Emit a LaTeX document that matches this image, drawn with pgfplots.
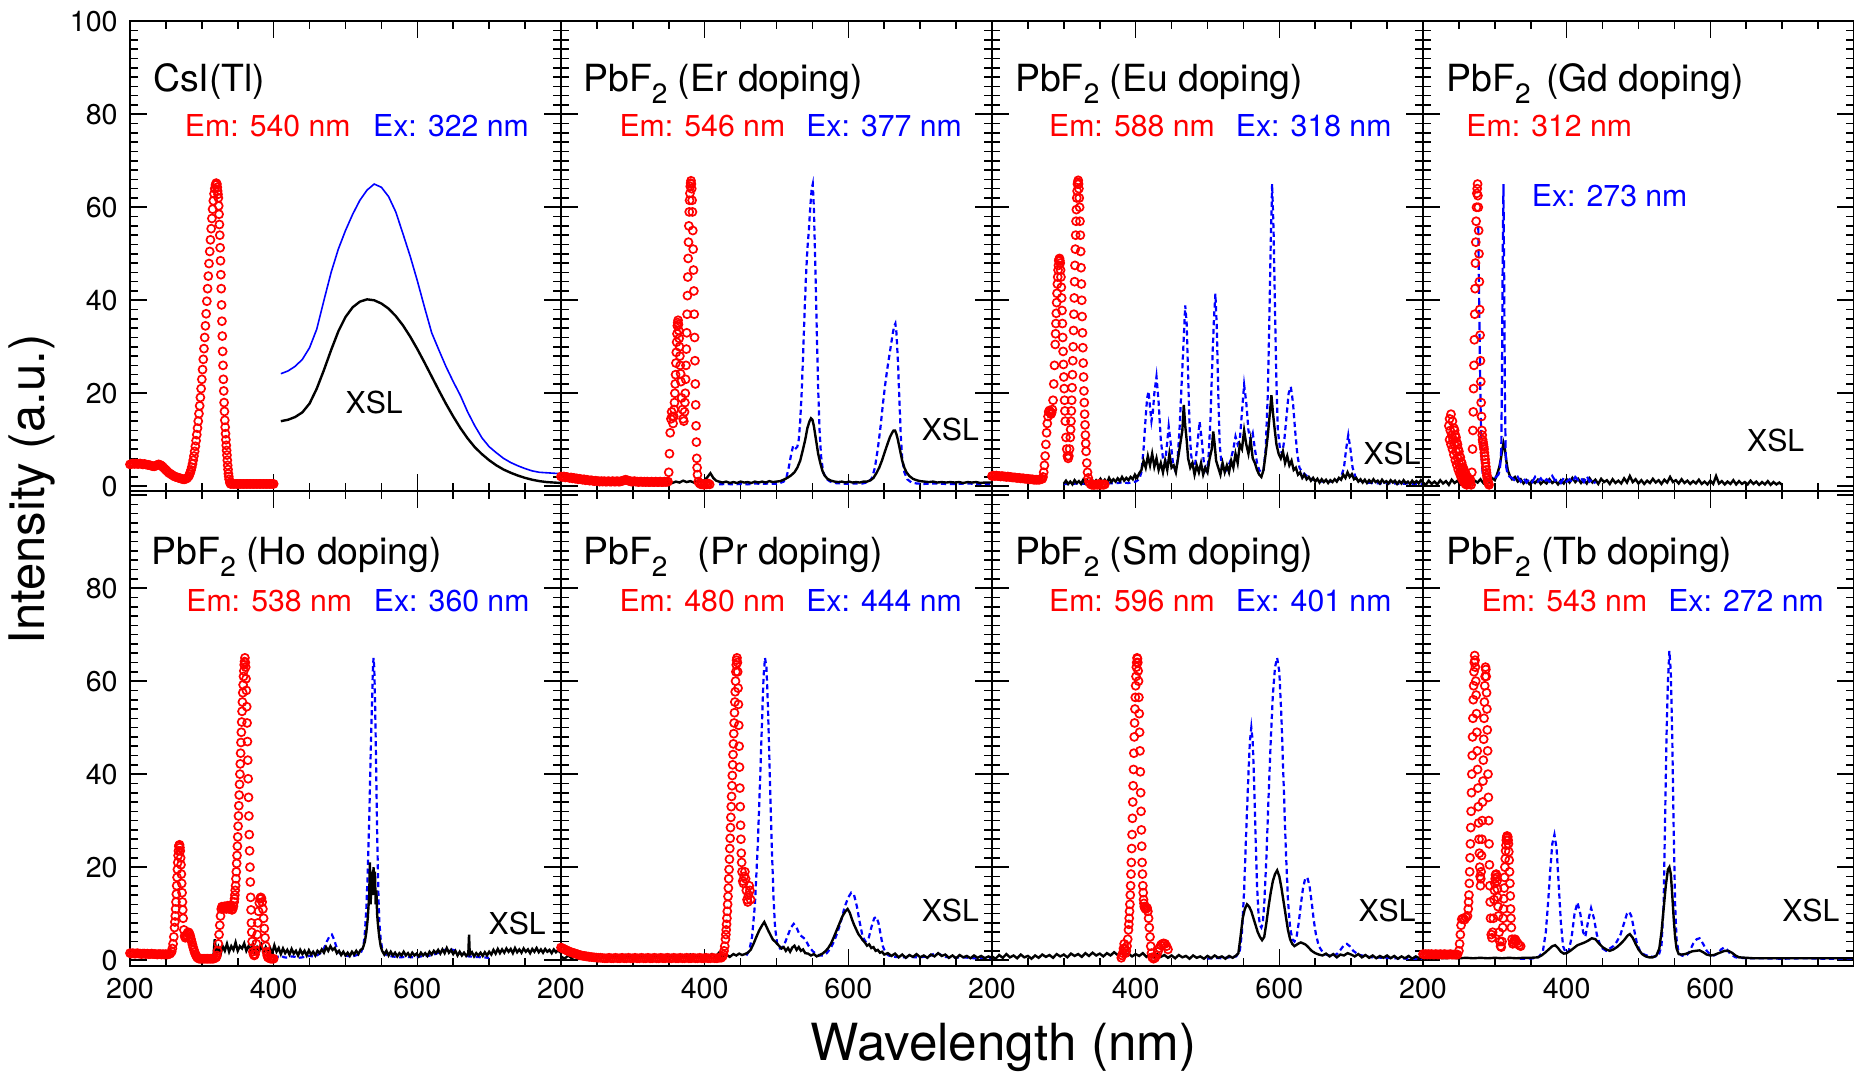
\documentclass[border=0pt]{standalone}
\usepackage{fontspec}
\setmainfont{TeX Gyre Heros}
\usepackage{pgfplots}
\pgfplotsset{compat=1.18}
\usepgfplotslibrary{groupplots}
\usetikzlibrary{calc}
\newcommand\tickfont{\fontsize{14.3}{16}\selectfont}
\newcommand\ttl{\fontsize{18.7}{22}\selectfont}
\newcommand\ann{\fontsize{15.1}{18}\selectfont}
\newcommand\sub[1]{\raisebox{-6pt}{\fontsize{14}{14}\selectfont #1}}
\tikzset{lbl/.style={anchor=base west, inner sep=0pt}}
\pgfplotsset{
  panel/.style={
    scale only axis, width=215.5pt,
    xmin=200, xmax=800,
    xtick={200,400,600,800}, minor x tick num=3,
    ytick={0,20,40,60,80,100}, minor y tick num=9,
    tick align=inside,
    major tick length=8.5pt, minor tick length=4pt,
    every tick/.style={black, line width=0.8pt},
    axis line style={line width=1pt},
    tick label style={font=\tickfont},
    yticklabel style={inner sep=0pt, xshift=-6pt},
    xticklabel style={inner sep=0pt, yshift=-6pt},
  },
  toprow/.style={ymin=-1, ymax=100, height=234.8pt, xticklabels={}},
  botrow/.style={ymin=-1.2, ymax=100.9, height=237.4pt, xticklabels={200,400,600,{}}},
  redc/.style={only marks, mark=o, mark size=2pt, color=red, mark options={line width=0.85pt}},
  bdash/.style={blue, line width=1.1pt, dash pattern=on 2.6pt off 1.8pt},
  xsl/.style={black, line width=1.2pt},
}
\begin{document}
\begin{tikzpicture}
\begin{groupplot}[group style={group size=4 by 2, horizontal sep=0pt, vertical sep=0pt}, panel]
%================ Panel 1: CsI(Tl)
\nextgroupplot[toprow, yticklabels={0,20,40,60,80,100}]
\coordinate (TL) at (rel axis cs:0,1);
\addplot[blue, line width=0.8pt] coordinates {(410,24.2)(420,24.8)(430,25.8)(440,27.3)(450,29.8)(460,33.8)(470,40)(480,46)(490,51)(500,55)(510,58.5)(520,61.5)(530,63.7)(540,65)(550,64.3)(560,62.3)(570,59)(580,54.3)(590,49.5)(600,44.2)(610,38.5)(620,33)(630,29.3)(640,25.7)(650,22.5)(660,19.5)(670,16)(680,13)(690,10.4)(700,8.5)(710,7.2)(720,6)(730,5.1)(740,4.4)(750,3.8)(760,3.3)(770,3)(780,2.9)(790,2.8)(800,2.7)};
\addplot[xsl] coordinates {(410,14)(420,14.3)(430,14.9)(440,15.9)(450,17.8)(460,21)(470,25)(480,29.3)(490,33.3)(500,36.4)(510,38.5)(520,39.7)(530,40.2)(540,40)(550,39.3)(560,38.2)(570,36.6)(580,34.6)(590,32.2)(600,29.5)(610,26.6)(620,23.6)(630,20.6)(640,17.7)(650,15)(660,12.5)(670,10.3)(680,8.4)(690,6.9)(700,5.6)(710,4.5)(720,3.6)(730,2.9)(740,2.3)(750,1.8)(760,1.4)(770,1.1)(780,0.9)(790,0.8)(800,0.7)};
\addplot[redc] coordinates {(200,4.7)(202,4.8)(204,4.9)(206,4.8)(208,4.9)(210,4.8)(212,4.8)(214,4.9)(216,4.8)(218,4.7)(220,4.8)(222,4.7)(224,4.6)(226,4.6)(228,4.5)(230,4.4)(232,4.3)(234,4.3)(236,4.4)(238,4.6)(240,4.7)(242,4.6)(244,4.4)(246,4.1)(248,3.8)(250,3.5)(252,3.2)(254,2.9)(256,2.7)(258,2.5)(260,2.3)(262,2.1)(264,2)(266,1.9)(268,1.8)(270,1.7)(272,1.6)(274,1.5)(276,1.5)(278,1.6)(280,1.8)(282,2.2)(283,2.6)(284,3)(285,3.5)(286,4.1)(287,4.8)(288,5.6)(289,6.5)(290,7.5)(291,8.6)(292,9.8)(293,11.1)(294,12.5)(295,14)(296,15.6)(297,17.3)(298,19.1)(299,21)(300,23)(301,25.1)(302,27.3)(303,29.6)(304,32)(305,34.5)(306,37.1)(307,39.8)(308,42.5)(309,45.2)(310,47.9)(311,50.5)(312,53)(313,55.4)(314,57.6)(315,59.6)(316,61.4)(317,62.9)(318,64)(319,64.8)(320,65.2)(321,65)(322,63.5)(323,62)(324,58.5)(325,54)(326,48.5)(327,42.5)(328,35.5)(329,29)(330,23)(331,18)(332,14.2)(333,11.3)(334,8.8)(335,6.7)(336,4.5)(337,2.7)(338,1.5)(339,0.8)(340,0.5)(321.5,64.3)(322.5,62.8)(323.5,60.3)(324.5,56.3)(325.5,51.3)(326.5,45.5)(327.5,39)(328.5,32.3)(329.5,26)(330.5,20.5)(331.5,16.1)(332.5,12.7)(333.5,10)(334.5,7.7)(335.5,5.6)(336.5,3.6)(337.5,2.1)(342,0.5)(344,0.5)(346,0.5)(348,0.5)(350,0.5)(352,0.5)(354,0.5)(356,0.5)(358,0.5)(360,0.5)(362,0.5)(364,0.5)(366,0.5)(368,0.5)(370,0.5)(372,0.5)(374,0.5)(376,0.5)(378,0.5)(380,0.5)(382,0.5)(384,0.5)(386,0.5)(388,0.5)(390,0.5)(392,0.5)(394,0.5)(396,0.5)(398,0.5)(400,0.5)};
\node[lbl, font=\ttl] at (axis cs:231.5,85) {CsI(Tl)};
\node[lbl, font=\ann, text=red] at (axis cs:276,75.3) {Em: 540 nm};
\node[lbl, font=\ann, text=blue] at (axis cs:538,75.3) {Ex: 322 nm};
\node[font=\ann] at (axis cs:540,18) {XSL};
%================ Panel 2: Er
\nextgroupplot[toprow, yticklabels={}]
\addplot[bdash] coordinates {(420,0.4)(430,0.5)(440,0.4)(450,0.5)(460,0.4)(470,0.6)(480,0.5)(490,0.6)(500,0.5)(505,0.7)(510,1)(514,2)(517,4)(520,6.5)(523,8.6)(526,8)(529,8.5)(531,10)(533,14)(535,20)(537,28)(539,37)(541,45)(543,51)(545,55)(547,60)(549,64)(550.5,65)(552,60)(554,48)(556,34)(558,21)(560,12)(562,6.5)(565,3)(570,1.5)(575,1)(580,0.7)(590,0.6)(600,0.5)(610,0.6)(620,0.6)(628,0.9)(633,1.8)(637,4)(641,8)(645,13)(648,17.5)(651,21.5)(654,25)(657,28)(660,31)(662,33)(664,34.5)(665.5,35)(667,33)(669,27)(671,19)(673,11)(675,6)(678,3)(682,1.5)(688,0.8)(695,0.6)(705,0.5)(720,0.6)(735,0.5)(750,0.5)(765,0.6)(780,0.5)(800,0.5)};
\addplot[xsl] coordinates {(340,1)(345,0.8)(350,1.1)(355,0.7)(360,1)(365,0.8)(370,1.2)(375,0.9)(380,1.1)(385,0.8)(390,1.2)(395,1)(400,1.3)(404,2)(408,2.8)(412,1.8)(416,1.2)(420,1)(425,0.8)(430,1)(435,0.7)(440,0.9)(445,0.7)(450,1)(455,0.8)(460,0.9)(465,0.7)(470,1)(475,0.8)(480,1)(485,0.8)(490,1.1)(495,0.9)(500,1)(505,1.1)(510,1.4)(515,1.8)(520,2.3)(525,3)(529,4)(533,5.5)(537,8)(540,10)(543,12.5)(546,14)(548,14.6)(550,14.3)(552,13)(554,11)(556,9)(558,7)(561,5)(564,3.3)(567,2.3)(571,1.6)(576,1.2)(581,1)(586,0.9)(591,1)(596,0.8)(601,1)(606,0.8)(611,0.9)(616,0.8)(621,1)(626,1)(631,1.3)(635,1.8)(639,2.8)(643,4)(647,5.6)(651,7.5)(655,9.3)(658,10.6)(661,11.5)(663,12)(665,12)(667,11.2)(669,10)(671,8.5)(673,7)(675,5.5)(678,4)(681,3)(685,2.2)(690,1.6)(695,1.3)(700,1.1)(706,1)(712,0.9)(718,1)(724,0.8)(730,0.9)(736,0.8)(742,0.9)(748,0.8)(754,0.9)(760,0.7)(766,0.9)(772,0.8)(778,0.9)(784,0.7)(790,0.8)(800,0.8)};
\addplot[redc] coordinates {(200,2.1)(202,2)(204,2.1)(206,1.9)(208,2)(210,1.9)(212,1.8)(214,1.9)(216,1.7)(218,1.8)(220,1.6)(222,1.7)(224,1.5)(226,1.6)(228,1.5)(230,1.4)(232,1.5)(234,1.3)(236,1.4)(238,1.3)(240,1.2)(242,1.3)(244,1.2)(246,1.1)(248,1.2)(250,1.1)(252,1.1)(254,1)(256,1.1)(258,1)(260,1.1)(262,1)(264,1)(266,1.1)(268,1)(270,1)(272,1.1)(274,1)(276,1)(278,1.1)(280,1)(282,1)(284,1.1)(286,1.2)(288,1.3)(290,1.4)(292,1.3)(294,1.2)(296,1.1)(298,1)(300,1)(302,1.1)(304,1)(306,1)(308,0.9)(310,1)(312,1)(314,0.9)(316,1)(318,0.9)(320,1)(322,0.9)(324,0.9)(326,1)(328,0.9)(330,0.9)(332,1)(334,0.9)(336,0.9)(338,1)(340,0.9)(342,0.9)(344,1)(346,0.9)(348,1)(349,1)(350,3)(351,7)(352,11.5)(353,14.5)(354,16)(355,15)(356,13.5)(357,15)(358,18)(359,22)(360,26.5)(361,31)(362,34.5)(363,35.7)(364,33.5)(365,30)(366,26)(367,22.5)(368,19)(369,16.5)(370,14.5)(371,14)(372,16)(373,20)(374,26)(375,33)(376,41)(377,49)(378,56)(379,61.5)(380,64.5)(381,65.7)(382,64)(383,59)(384,51)(385,42)(386,32)(387,22)(388,13)(389,6)(390,2.5)(391,1)(357.5,16.5)(358.5,20)(359.5,24)(360.5,28.8)(361.5,32.8)(362.5,35.2)(363.5,34.8)(364.5,31.8)(365.5,28)(366.5,24.2)(372.5,18)(373.5,23)(374.5,29.5)(375.5,37)(376.5,45)(377.5,52.5)(378.5,59)(379.5,63)(380.5,65.2)(381.5,65)(382.5,61.5)(383.5,55)(384.5,46.5)(385.5,37)(386.5,27)(387.5,17.5)(388.5,9.5)(389.5,4)(393,0.6)(395,0.4)(397,0.5)(399,0.3)(401,0.5)(403,0.4)(405,0.6)(407,0.4)};
\node[lbl, font=\ttl] at (axis cs:230.5,85) {PbF\sub{2} (Er doping)};
\node[lbl, font=\ann, text=red] at (axis cs:281,75.3) {Em: 546 nm};
\node[lbl, font=\ann, text=blue] at (axis cs:541,75.3) {Ex: 377 nm};
\node[font=\ann] at (axis cs:742,12.2) {XSL};
%================ Panel 3: Eu
\nextgroupplot[toprow, yticklabels={}]
\addplot[bdash] coordinates {(300,0.5)(310,0.5)(320,0.6)(330,0.5)(340,0.6)(350,0.5)(360,0.7)(370,0.6)(380,0.8)(390,0.7)(400,1)(405,1.5)(408,3)(411,8)(414,15)(416,19)(418,20.4)(420,17)(422,14)(424,16)(426,20)(429,23.6)(432,18)(435,10)(438,6)(441,5)(443,8)(446,12.9)(449,9)(452,5)(455,3.5)(458,5)(461,12)(464,22)(467,32)(469,38.9)(471,35)(473,24)(475,13)(477,7)(480,4)(483,5)(486,9)(489,13.9)(492,10)(495,5)(498,3.5)(501,5)(504,14)(507,28)(509,36)(511,41.4)(513,34)(515,20)(517,9)(520,4)(524,3)(528,4)(532,5.5)(536,8)(539,10.7)(542,9)(545,10)(548,16)(551,21.8)(554,18)(557,12)(560,10)(563,11.4)(566,8)(569,5)(572,3.5)(575,3)(578,3.5)(581,8)(584,20)(586,35)(588,52)(590,65)(592,55)(594,38)(596,22)(598,12)(601,8)(604,7)(607,10)(610,15)(613,20)(616,21.4)(619,18)(622,12)(625,7)(628,4)(632,3)(636,2.5)(640,2)(645,1.5)(650,1.3)(660,1)(670,1)(680,1.2)(686,2)(690,4)(693,8)(696,11)(699,8)(702,4)(706,2)(712,1.2)(720,0.8)(730,0.7)(740,0.6)(750,0.7)(760,0.6)(770,0.5)(780,0.6)(790,0.5)(800,0.5)};
\addplot[xsl] coordinates {(300,0.6)(303,1.2)(306,0.5)(309,1)(312,0.4)(315,1.3)(318,0.7)(321,1.1)(324,0.5)(327,1.4)(330,0.6)(333,1.2)(336,0.8)(339,1.5)(342,0.7)(345,1.3)(348,0.9)(351,1.6)(354,0.8)(357,1.4)(360,0.7)(363,1.8)(366,0.9)(369,1.5)(372,1)(375,1.7)(378,1.1)(381,2)(384,1.2)(387,1.8)(390,1.3)(393,2)(396,1.5)(399,2.5)(402,1.8)(405,2.8)(408,3.5)(411,5.5)(414,4)(417,6.5)(420,4.5)(423,7)(426,4.2)(429,6)(432,3.5)(435,5)(438,3)(441,5.5)(444,3.5)(447,7)(450,4)(453,4.5)(456,3)(459,6)(462,9)(465,12)(467,17.5)(469,13)(471,10)(473,6)(476,4)(479,5)(482,2.5)(485,4.5)(488,3)(491,5)(494,2.5)(497,4)(500,3)(503,6)(506,8)(508,11.8)(510,9)(512,5.5)(515,4)(518,2.5)(521,5)(524,3)(527,4.5)(530,3)(533,5.5)(536,4)(539,7)(542,5)(545,9)(548,8)(551,12)(554,9)(557,7)(560,10)(563,6)(566,5)(569,3.5)(572,2.5)(575,2)(578,3.5)(581,7)(584,11)(587,16)(589,19.6)(591,16)(593,13)(596,9)(599,7)(602,6)(605,7.5)(608,5)(611,6.5)(614,4.5)(617,5.5)(620,3.5)(623,4)(626,2.5)(629,3)(632,1.8)(635,2.5)(638,1.5)(641,2)(644,1.2)(647,1.8)(650,1)(653,1.6)(656,0.8)(659,1.5)(662,0.9)(665,1.4)(668,0.7)(671,1.3)(674,0.9)(677,1.5)(680,1)(683,1.8)(686,1.4)(689,2.5)(692,1.8)(695,3)(698,2)(701,2.6)(704,1.5)(707,1.8)(710,1)(713,1.5)(716,0.8)(719,1.4)(722,0.7)(725,1.3)(728,0.8)(731,1.5)(734,0.9)(737,1.2)(740,0.6)(743,1.4)(746,0.8)(749,1.1)(752,0.6)(755,1.3)(758,0.8)(761,1.2)(764,0.5)(767,1.1)(770,0.6)(773,1.3)(776,0.7)(779,1)(782,0.5)(785,1.2)(788,0.7)(791,1.1)(794,0.6)(797,1.3)(800,0.8)};
\addplot[redc] coordinates {(200,2.2)(202,2.3)(204,2.2)(206,2.3)(208,2.2)(210,2.2)(212,2.1)(214,2.2)(216,2.1)(218,2.1)(220,2)(222,2.1)(224,2)(226,2)(228,1.9)(230,1.9)(232,1.9)(234,1.8)(236,1.8)(238,1.8)(240,1.7)(242,1.7)(244,1.7)(246,1.6)(248,1.6)(250,1.6)(252,1.5)(254,1.5)(256,1.5)(258,1.4)(260,1.4)(262,1.4)(264,1.4)(266,1.4)(268,1.5)(270,1.6)(271,2)(272,3)(273,4.5)(274,6.5)(275,9)(276,11.5)(277,13.5)(278,15)(279,16)(280,16.3)(281,16)(282,15.5)(283,15.8)(284,16.5)(285,18.5)(286,22)(287,26)(288,30.5)(289,35)(290,39.5)(291,43.5)(292,46.5)(293,48.5)(294,49)(295,48)(296,45)(297,40.5)(298,35)(299,29)(300,23.5)(301,18.5)(302,14)(303,10.5)(304,8)(305,6.5)(306,6)(307,6.5)(308,8)(309,10.5)(310,14)(311,18.5)(312,24)(313,30)(314,37)(315,44)(316,51)(317,57)(318,62)(319,65)(320,65.8)(321,64)(322,60)(323,54)(324,47)(325,40)(326,33)(327,26.5)(328,20.5)(329,15.5)(330,11)(331,7.5)(332,5)(333,3)(334,1.8)(335,1)(288.5,32.8)(289.5,37.2)(290.5,41.5)(291.5,45)(292.5,47.5)(293.5,48.8)(294.5,48.5)(295.5,46.5)(296.5,42.8)(297.5,37.8)(298.5,32)(299.5,26.2)(300.5,21)(301.5,16.2)(309.5,12.2)(310.5,16.2)(311.5,21.2)(312.5,27)(313.5,33.5)(314.5,40.5)(315.5,47.5)(316.5,54)(317.5,59.5)(318.5,63.5)(319.5,65.4)(320.5,65)(321.5,62)(322.5,57)(323.5,50.5)(324.5,43.5)(325.5,36.5)(326.5,29.8)(327.5,23.5)(328.5,18)(329.5,13.2)(330.5,9.2)(337,0.5)(339,0.3)(341,0.3)(343,0.3)(345,0.4)(347,0.3)(349,0.5)(351,0.3)(353,0.4)(355,0.3)(357,0.4)};
\node[lbl, font=\ttl] at (axis cs:231.8,85) {PbF\sub{2} (Eu doping)};
\node[lbl, font=\ann, text=red] at (axis cs:279,75.3) {Em: 588 nm};
\node[lbl, font=\ann, text=blue] at (axis cs:539,75.3) {Ex: 318 nm};
\node[font=\ann] at (axis cs:757,7.1) {XSL};
%================ Panel 4: Gd
\nextgroupplot[toprow, yticklabels={}]
\addplot[xsl] coordinates {(200,0.8)(204,0.3)(208,1.2)(212,0.5)(216,1)(220,0.4)(224,1.3)(228,0.6)(232,1.1)(236,0.3)(240,1.4)(244,0.7)(248,1.2)(252,0.4)(256,1)(260,0.5)(264,1.3)(268,0.6)(272,1.2)(276,0.8)(280,1.5)(284,0.7)(288,1.6)(292,1)(296,1.8)(300,1.3)(303,2.5)(306,4)(308,5.5)(310,7.5)(312,9.3)(314,8)(316,5.5)(318,3.5)(321,2.2)(324,1.5)(328,2)(332,1)(336,1.5)(340,0.6)(344,1.3)(348,0.5)(352,1.2)(356,0.7)(360,1.4)(364,0.5)(368,1.1)(372,0.6)(376,1.5)(380,0.7)(384,1.2)(388,0.4)(392,1.3)(396,0.6)(400,1.5)(404,0.8)(408,1.8)(412,0.9)(416,1.6)(420,0.7)(424,1.4)(428,0.6)(432,1.7)(436,0.8)(440,1.4)(444,0.5)(448,1.6)(452,0.9)(456,1.3)(460,0.5)(464,1.5)(468,0.7)(472,1.2)(476,0.6)(480,1.7)(484,0.8)(488,2.2)(492,0.9)(496,1.5)(500,0.6)(504,1.3)(508,0.5)(512,1.2)(516,0.7)(520,1.6)(524,0.8)(528,1.3)(532,0.5)(536,1.4)(540,0.8)(544,2)(548,0.9)(552,1.3)(556,0.6)(560,1.5)(564,0.7)(568,1.2)(572,0.5)(576,1.1)(580,0.6)(584,1.4)(588,0.5)(592,1)(596,0.4)(600,1.2)(604,0.5)(608,2.2)(612,0.6)(616,1.1)(620,0.4)(624,1)(628,0.5)(632,1.3)(636,0.4)(640,1.1)(644,0.5)(648,0.9)(652,0.4)(656,1.2)(660,0.5)(664,1)(668,0.3)(672,0.9)(676,0.4)(680,1.1)(684,0.3)(688,0.9)(692,0.4)(696,0.8)(700,0.3)};
\addplot[blue, line width=1.1pt, dash pattern=on 4pt off 2pt] coordinates {(277,56)(278,42)(279,30)(280,19)(281,10)(282,5)(283,3)(284,2)(287,1.8)(290,1.5)(294,1.3)(298,1.6)(302,2)(305,2.5)(307,3.5)(309,8)(310,25)(311,50)(312,65)(313,45)(314,20)(315,8)(316,4)(318,2.5)(321,2)(324,1.8)(328,1.2)(332,2)(336,1)(340,1.8)(344,0.8)(348,1.6)(352,0.9)(356,2)(360,1)(364,1.7)(368,0.8)(372,1.5)(376,1)(380,2.2)(384,1.2)(388,1.6)(392,0.7)(396,1.8)(400,1)(404,1.5)(408,0.8)(412,2)(416,1.3)(420,1.8)(424,0.9)(428,2.2)(432,1)(436,1.5)(440,0.6)};
\addplot[redc] coordinates {(236,13)(237,14.5)(239,15.5)(241,14)(243,12.5)(245,11)(247,9.5)(249,8)(251,6.5)(253,5.2)(255,4)(257,3)(259,2.2)(261,1.5)(263,0.9)(265,0.5)(267,0.3)(238,12)(240,11)(242,10)(244,9)(246,7.5)(248,6.2)(250,5)(252,4)(254,3)(256,2.2)(258,1.5)(260,1)(262,0.6)(237,10)(239,9)(241,8)(243,6.8)(245,5.6)(247,4.6)(249,3.6)(251,2.8)(253,2)(255,1.4)(257,0.9)(259,0.5)(261,0.3)(244,12)(246,10.5)(248,9)(250,7.5)(252,6.2)(254,5)(256,4)(258,3.2)(260,2.5)(262,2)(264,1.6)(266,1.4)(268,3)(269,8)(270,16)(271,26)(272,37)(273,48)(274,57)(275,63)(276,65)(277,60)(278,50)(279,38)(280,27)(281,18)(282,12)(269.5,12)(270.5,21)(271.5,31.5)(272.5,42.5)(273.5,52.5)(274.5,60)(275.5,64)(276.5,62.5)(277.5,55)(278.5,44)(279.5,32.5)(280.5,22.5)(281.5,15)(283,10)(284,9)(285,8)(286,6.5)(287,5)(288,3.5)(289,2.3)(290,1.3)(291,0.6)(292,0.3)(282.5,11)(283.5,9.5)(284.5,8.5)(285.5,7.2)(286.5,5.8)(287.5,4.2)(288.5,2.9)(289.5,1.8)(290.5,0.9)};
\node[lbl, font=\ttl] at (axis cs:232.3,85) {PbF\sub{2}\hspace{2.5pt} (Gd doping)};
\node[lbl, font=\ann, text=red] at (axis cs:260,75.3) {Em: 312 nm};
\node[lbl, font=\ann, text=blue] at (axis cs:351,60.1) {Ex: 273 nm};
\node[font=\ann] at (axis cs:691,9.9) {XSL};
%================ Panel 5: Ho
\nextgroupplot[botrow, yticklabels={0,20,40,60,80,{}}]
\addplot[bdash] coordinates {(400,0.5)(405,0.7)(410,0.9)(415,0.6)(420,0.5)(425,0.8)(430,0.7)(435,0.5)(440,0.6)(445,0.8)(450,0.9)(455,0.8)(460,1)(465,1.5)(470,2.5)(474,4)(478,5.2)(481,5.5)(484,4.5)(487,3)(490,1.8)(494,1.2)(500,1)(506,0.8)(512,0.9)(518,1.2)(522,1.8)(525,3)(527,6)(529,11)(531,19)(533,30)(535,44)(537,56)(538,62)(539,65)(540,63)(541,57)(542,48)(543,38)(544,28)(545,20)(546,13)(547,8.5)(549,4.5)(551,2.5)(554,1.4)(558,1)(565,0.8)(575,0.6)(585,0.7)(595,0.6)(605,0.8)(615,0.9)(625,1.3)(632,1.8)(638,2.2)(645,2.4)(652,2.1)(658,1.6)(665,1.1)(672,0.8)(680,0.7)(690,0.6)(700,0.5)};
\addplot[xsl] coordinates {(316,0.5)(318,4.5)(320,1.5)(323,2.8)(326,1.2)(329,3)(332,2)(335,3.5)(338,1.8)(341,3)(344,2.2)(347,3.8)(350,2)(353,3)(356,2.5)(359,3.6)(362,2)(365,3)(368,2.2)(371,3.5)(374,1.8)(377,2.8)(380,2)(383,3.2)(386,1.6)(389,2.8)(392,1.8)(395,2.6)(398,1.5)(401,3.2)(404,1.8)(407,2.6)(410,1.3)(413,2.5)(416,1.5)(419,2.2)(422,1.2)(425,2.4)(428,1.4)(431,2)(434,1)(437,2.2)(440,1.3)(443,2)(446,1)(449,2.1)(452,1.2)(455,1.8)(458,1)(461,2)(464,1.5)(467,2.3)(470,1.6)(473,2.8)(476,2)(479,3)(482,2.2)(485,2.6)(488,1.5)(491,2)(494,1.1)(497,1.8)(500,1)(503,1.6)(506,0.9)(509,1.8)(512,1.2)(515,2)(518,1.3)(521,2.2)(524,2.5)(527,4)(529,6)(531,9)(533,14)(534,21)(535,12)(536,17)(537,19)(538,14)(539,20)(540,16)(541,19)(542,12)(543,15)(544,10)(545,8)(547,5)(549,3)(551,2)(554,1.2)(557,2)(560,1)(563,1.8)(566,1)(569,1.6)(572,0.8)(575,1.5)(578,1)(581,1.8)(584,1)(587,1.5)(590,0.8)(593,1.6)(596,1)(599,1.4)(602,0.8)(605,1.6)(608,1)(611,1.5)(614,0.9)(617,1.8)(620,1.2)(623,2)(626,1.5)(629,2.2)(632,1.4)(635,2.3)(638,1.5)(641,2.6)(644,1.6)(647,2.2)(650,1.3)(653,2)(656,1)(659,1.8)(662,1)(665,1.6)(668,0.9)(671,1.5)(672,5.5)(673,1.2)(676,1.7)(679,0.8)(682,1.5)(685,1)(688,1.6)(691,0.9)(694,1.7)(697,1)(700,1.8)(703,1.2)(706,2.2)(709,1.4)(712,2.4)(715,1.5)(718,2.3)(721,1.6)(724,2.5)(727,1.8)(730,2.4)(733,1.5)(736,2.6)(739,1.7)(742,2.3)(745,1.6)(748,2.5)(751,1.8)(754,2.3)(757,1.5)(760,2.4)(763,1.8)(766,2.6)(769,1.7)(772,2.3)(775,1.6)(778,2.4)(781,1.8)(784,2.2)(787,1.5)(790,2.3)(793,1.7)(796,2.2)(799,1.6)};
\addplot[redc] coordinates {(200,1.5)(202,1.4)(204,1.5)(206,1.4)(208,1.4)(210,1.5)(212,1.4)(214,1.4)(216,1.3)(218,1.4)(220,1.4)(222,1.3)(224,1.4)(226,1.3)(228,1.3)(230,1.4)(232,1.3)(234,1.3)(236,1.3)(238,1.2)(240,1.3)(242,1.3)(244,1.2)(246,1.3)(248,1.2)(250,1.3)(252,1.2)(254,1.3)(256,1.4)(258,1.8)(259,2.5)(260,3.5)(261,5)(262,7)(263,9.5)(264,12.5)(265,16)(266,19.5)(267,22.5)(268,24.5)(269,24.8)(270,23.5)(271,20.5)(272,16.5)(273,12.5)(274,9)(262.5,8.2)(263.5,11)(264.5,14.2)(265.5,17.8)(266.5,21)(267.5,23.5)(268.5,24.7)(269.5,24.2)(270.5,22)(271.5,18.5)(272.5,14.5)(273.5,10.8)(275,6.5)(276,5.2)(277,4.8)(278,5)(279,5.4)(280,5.8)(281,6)(282,5.9)(283,5.6)(284,5.1)(285,4.5)(286,3.9)(287,3.3)(288,2.7)(289,2.2)(290,1.7)(291,1.3)(292,1)(293,0.7)(294,0.5)(296,0.3)(298,0.3)(300,0.3)(302,0.3)(304,0.3)(306,0.3)(308,0.3)(310,0.3)(312,0.3)(314,0.3)(316,0.3)(318,0.4)(320,0.6)(321,1)(322,2)(323,3.5)(324,5.5)(325,7.5)(326,9.5)(327,11)(328,11.5)(329,11.3)(330,11)(331,11.4)(332,11.6)(333,11.2)(334,11)(335,11.5)(336,11.7)(337,11.3)(338,11)(339,11.4)(340,11.8)(341,11.3)(342,10.8)(343,11)(344,11.6)(345,12.5)(346,14)(347,16)(348,19)(349,22.5)(350,26.5)(351,31)(352,35.5)(353,40)(354,44.5)(355,49)(356,53.5)(357,57.5)(358,61)(359,63.5)(360,65)(361,63)(362,58)(363,51)(364,43)(365,35)(366,27)(367,20)(368,13.5)(369,8)(370,4)(371,1.8)(345.5,13.2)(346.5,15)(347.5,17.5)(348.5,20.8)(349.5,24.5)(350.5,28.8)(351.5,33.2)(352.5,37.8)(353.5,42.2)(354.5,46.8)(355.5,51.2)(356.5,55.5)(357.5,59.2)(358.5,62.2)(359.5,64.2)(360.5,64)(361.5,60.5)(362.5,54.5)(363.5,47)(364.5,39)(365.5,31)(366.5,23.5)(367.5,16.8)(368.5,10.8)(369.5,6)(372,1.2)(373,1)(374,1.2)(375,2)(376,3.5)(377,5.5)(378,8)(379,10.5)(380,12.3)(381,13.2)(382,13.5)(383,13.3)(384,12.5)(385,11)(386,9)(387,6.8)(388,4.8)(389,3)(390,1.8)(391,1)(392,0.6)(394,0.4)(396,0.3)(398,0.3)(400,0.3)};
\node[lbl, font=\ttl] at (axis cs:229.9,85) {PbF\sub{2} (Ho doping)};
\node[lbl, font=\ann, text=red] at (axis cs:278,75) {Em: 538 nm};
\node[lbl, font=\ann, text=blue] at (axis cs:539,75) {Ex: 360 nm};
\node[font=\ann] at (axis cs:739,7.8) {XSL};
%================ Panel 6: Pr
\nextgroupplot[botrow, yticklabels={}]
\addplot[bdash] coordinates {(458,1)(462,2)(466,5)(470,12)(474,25)(477,38)(480,52)(482,61)(484,65)(486,63)(488,55)(490,44)(492,32)(494,22)(496,13)(498,7)(501,3.5)(505,2.5)(510,3)(515,5)(520,7)(524,7.8)(528,7)(532,5.5)(536,5)(540,4.5)(545,3)(550,2)(555,1.3)(560,1)(565,1)(570,1.5)(575,2.5)(580,4)(585,6)(590,8.5)(595,11.5)(600,13.5)(604,14.5)(608,14)(612,11.5)(616,8)(620,5)(624,4)(628,4.5)(632,7)(636,9)(639,9.3)(642,8)(645,5.5)(648,3)(652,1.5)(656,1)(665,0.7)(675,0.6)(685,0.7)(695,0.6)(705,0.7)(715,1)(722,1.6)(728,1.2)(735,0.7)(745,0.5)(760,0.6)(775,0.4)(790,0.5)(800,0.4)};
\addplot[xsl] coordinates {(200,0.8)(205,0.3)(210,1)(215,0.4)(220,0.9)(225,0.3)(230,1)(235,0.5)(240,0.8)(245,0.3)(250,1)(255,0.4)(260,0.9)(265,0.3)(270,1)(275,0.5)(280,0.9)(285,0.4)(290,1.1)(295,0.5)(300,0.9)(305,0.4)(310,1)(315,0.5)(320,0.9)(325,0.3)(330,1)(335,0.5)(340,0.8)(345,0.4)(350,1.1)(355,0.5)(360,0.9)(365,0.4)(370,1)(375,0.6)(380,1.2)(385,0.5)(390,0.9)(395,0.4)(400,1.1)(405,0.6)(410,1.3)(415,0.7)(420,1.6)(425,0.8)(430,1.2)(435,0.7)(440,1.3)(444,1)(448,1.4)(452,1.1)(456,1.3)(460,1.6)(464,2.2)(468,3.5)(472,5)(476,6.4)(480,7.5)(483,8.2)(486,7.2)(489,6.2)(492,5.3)(495,4.4)(498,4)(501,3.5)(504,3)(507,2.5)(510,2.8)(513,2)(516,2.6)(519,1.8)(522,2.7)(525,3.1)(528,2.2)(531,2.8)(534,2)(537,2.3)(540,1.5)(544,1.4)(548,1)(552,1.3)(556,0.8)(560,1.1)(564,1.4)(568,1.9)(572,2.6)(576,3.6)(580,5)(584,6.5)(588,8)(592,9.5)(596,10.5)(599,11)(602,10.2)(605,8.8)(608,7.6)(611,6.6)(614,5.6)(617,5)(620,4.3)(623,3.8)(626,3.1)(629,3.4)(632,2.6)(635,2.8)(638,2)(641,2.2)(644,1.6)(647,1.8)(650,1.2)(655,1.5)(660,0.9)(665,1.4)(670,0.6)(675,1.2)(680,0.5)(685,1.1)(690,0.7)(695,1.3)(700,0.6)(705,1)(710,0.5)(715,1.2)(720,0.8)(725,1.5)(730,0.9)(735,1.2)(740,0.5)(745,1)(750,0.4)(755,1.1)(760,0.6)(765,0.9)(770,0.4)(775,1)(780,0.5)(785,0.9)(790,0.4)(795,0.8)(800,0.5)};
\addplot[redc] coordinates {(200,2.7)(202,2.55)(204,2.4)(206,2.25)(208,2.1)(210,1.95)(212,1.8)(214,1.7)(216,1.6)(218,1.5)(220,1.4)(222,1.3)(224,1.2)(226,1.1)(228,1)(230,0.95)(232,0.9)(234,0.85)(236,0.8)(238,0.75)(240,0.7)(243,0.65)(246,0.6)(249,0.55)(252,0.5)(255,0.5)(258,0.45)(261,0.4)(264,0.4)(267,0.5)(270,0.4)(273,0.4)(276,0.5)(279,0.4)(282,0.4)(285,0.5)(288,0.4)(291,0.4)(294,0.5)(297,0.4)(300,0.4)(303,0.5)(306,0.4)(309,0.4)(312,0.5)(315,0.4)(318,0.4)(321,0.5)(324,0.4)(327,0.4)(330,0.5)(333,0.4)(336,0.4)(339,0.5)(342,0.4)(345,0.4)(348,0.5)(351,0.4)(354,0.4)(357,0.5)(360,0.4)(363,0.4)(366,0.5)(369,0.4)(372,0.4)(375,0.5)(378,0.4)(381,0.4)(384,0.5)(387,0.4)(390,0.4)(393,0.5)(396,0.4)(399,0.4)(402,0.5)(405,0.4)(408,0.4)(411,0.5)(414,0.4)(417,0.4)(420,0.5)(423,0.5)(425,0.8)(426,1.2)(427,2)(428,3)(429,4.5)(430,6.5)(431,9)(432,12)(433,15.5)(434,19.5)(435,24)(436,28.5)(437,33)(438,37.5)(439,42)(440,46.5)(441,51)(442,55.5)(443,60)(444,63.5)(445,65)(446,62)(447,55)(448,46)(449,37)(450,29)(451,23)(452,19)(429.5,5.5)(430.5,7.7)(431.5,10.5)(432.5,13.7)(433.5,17.5)(434.5,21.7)(435.5,26.2)(436.5,30.7)(437.5,35.2)(438.5,39.7)(439.5,44.2)(440.5,48.7)(441.5,53.2)(442.5,57.7)(443.5,62)(444.5,64.5)(445.5,64)(446.5,58.5)(447.5,50.5)(448.5,41.5)(449.5,33)(450.5,26)(451.5,21)(453,17)(454,16.5)(455,18)(456,19)(457,17.5)(458,15)(459,13)(460,12.5)(461,14)(462,16)(463,15)(464,13)};
\node[lbl, font=\ttl] at (axis cs:230.5,85) {PbF\sub{2}\hspace{10pt} (Pr doping)};
\node[lbl, font=\ann, text=red] at (axis cs:281,75) {Em: 480 nm};
\node[lbl, font=\ann, text=blue] at (axis cs:541,75) {Ex: 444 nm};
\node[font=\ann] at (axis cs:742,10.7) {XSL};
%================ Panel 7: Sm
\nextgroupplot[botrow, yticklabels={}]
\addplot[bdash] coordinates {(500,0.3)(510,0.5)(520,0.4)(530,0.6)(540,0.8)(545,2)(548,6)(551,15)(554,28)(557,40)(559,47)(561,50)(563,47)(565,38)(567,26)(569,16)(571,10)(573,7.5)(575,7)(577,8)(579,12)(582,22)(585,35)(588,47)(591,57)(594,63)(597,65)(600,62)(603,52)(606,38)(609,24)(612,13)(615,7)(618,4.5)(621,4)(624,5)(627,8)(630,12)(633,15.5)(636,17.5)(639,17.8)(642,16)(645,12.5)(648,8.5)(651,5.5)(655,3)(660,1.8)(665,1.2)(670,1)(675,1)(680,1.3)(685,2.2)(690,3.2)(694,3.5)(698,3)(703,2)(710,1.2)(720,0.8)(730,0.6)(745,0.5)(760,0.4)(780,0.3)(800,0.3)};
\addplot[xsl] coordinates {(200,0.8)(205,0.3)(210,1.1)(215,0.5)(220,1.3)(225,0.6)(230,1)(235,0.4)(240,1.2)(245,0.6)(250,0.9)(255,0.3)(260,1)(265,0.5)(270,1.2)(275,0.7)(280,1.1)(285,0.5)(290,1.3)(295,0.8)(300,1.2)(305,0.6)(310,1.4)(315,0.9)(320,1.3)(325,0.7)(330,1.5)(335,0.9)(340,1.6)(345,1)(350,1.4)(355,0.8)(360,1.5)(365,1)(370,1.7)(375,1.1)(380,1.6)(385,1)(390,1.4)(395,0.8)(400,1.3)(405,0.9)(410,1.5)(415,0.7)(420,1.2)(425,0.5)(430,1.3)(435,0.7)(440,1.1)(445,0.5)(450,1)(455,0.4)(460,1.1)(465,0.6)(470,0.9)(475,0.3)(480,1)(485,0.5)(490,0.8)(495,0.3)(500,0.9)(505,0.4)(510,1)(515,0.5)(520,0.8)(525,0.3)(530,0.9)(535,0.5)(540,1)(543,1.5)(546,5)(549,9)(552,11)(555,12)(558,11.5)(561,10.5)(564,9)(567,7.5)(570,6)(573,5)(576,4.3)(579,5)(582,8)(585,11.5)(588,14.5)(591,17)(594,18.5)(597,19.3)(600,18)(603,15.5)(606,12.5)(609,9.5)(612,6.5)(615,4.5)(618,3.5)(621,3)(624,3.3)(627,3.6)(630,3.8)(633,3.6)(636,3.4)(639,3)(642,2.5)(645,2)(650,1.5)(655,1.2)(660,1)(665,1.4)(670,0.8)(675,1.3)(680,0.6)(685,1.2)(690,1)(695,1.5)(700,1.2)(705,0.8)(710,1.3)(715,0.6)(720,1.1)(725,0.5)(730,1)(735,0.4)(740,0.9)(745,0.5)(750,1)(755,0.4)(760,0.9)(765,0.3)(770,0.8)(775,0.4)(780,0.9)(785,0.3)(790,0.8)(795,0.4)(800,0.7)};
\addplot[redc] coordinates {(380,0.5)(381,1)(382,1.5)(383,2.5)(384,3.5)(385,2.5)(386,1.5)(387,2)(388,3)(389,4.5)(390,6.5)(391,9)(392,12)(393,16)(394,21)(395,27)(396,34)(397,41)(398,48)(399,54)(400,59)(401,63)(402,65)(403,64)(404,60)(405,53)(406,45)(407,36)(408,28)(409,21)(410,16)(411,13)(412,11.5)(390.5,7.7)(391.5,10.5)(392.5,14)(393.5,18.5)(394.5,24)(395.5,30.5)(396.5,37.5)(397.5,44.5)(398.5,51)(399.5,56.5)(400.5,61)(401.5,64)(402.5,64.8)(403.5,62.2)(404.5,56.5)(405.5,49)(406.5,40.5)(407.5,32)(408.5,24.5)(409.5,18.5)(410.5,14.5)(411.5,12.2)(413,11.2)(414,11)(415,11.3)(416,11.2)(417,10.5)(418,9)(419,7)(420,5)(421,3)(422,1.5)(423,0.6)(425,0.3)(427,0.5)(429,1)(431,1.8)(433,2.6)(435,3.2)(437,3.5)(439,3.6)(441,3.5)(443,3)(445,2.3)};
\node[lbl, font=\ttl] at (axis cs:231.8,85) {PbF\sub{2} (Sm doping)};
\node[lbl, font=\ann, text=red] at (axis cs:279,75) {Em: 596 nm};
\node[lbl, font=\ann, text=blue] at (axis cs:539,75) {Ex: 401 nm};
\node[font=\ann] at (axis cs:750,10.7) {XSL};
%================ Panel 8: Tb
\nextgroupplot[botrow, yticklabels={}]
\addplot[bdash] coordinates {(335,0.3)(345,0.3)(355,0.4)(362,0.8)(367,2)(371,6)(374,12)(377,19)(380,25)(383,27)(386,24)(389,16)(392,8)(395,3)(399,1.5)(403,2)(407,5)(411,10)(415,12.4)(419,10)(423,6)(426,5)(430,8.5)(434,11.2)(438,9)(442,5.5)(446,3.5)(450,2.5)(455,2)(460,2.5)(465,3)(470,4)(475,5.5)(480,8)(484,10)(487,10.4)(490,9.5)(494,6.5)(498,3.5)(502,2)(508,1.2)(515,0.8)(522,0.7)(528,1)(532,3)(535,12)(537,30)(539,48)(541,60)(543,66.5)(545,62)(547,48)(549,28)(551,12)(553,4.5)(556,1.5)(560,1)(565,0.8)(570,1.5)(576,3.5)(581,4.5)(585,4.7)(590,3.5)(595,2)(600,1.2)(605,1)(610,1.4)(615,2.3)(619,2.7)(623,2.3)(628,1.3)(635,0.6)(650,0.4)(670,0.4)(700,0.3)(730,0.4)(760,0.3)(800,0.3)};
\addplot[xsl] coordinates {(200,0.5)(210,0.4)(220,0.5)(230,0.4)(240,0.5)(250,0.4)(260,0.5)(270,0.4)(280,0.5)(290,0.4)(300,0.5)(310,0.4)(320,0.5)(330,0.4)(340,0.5)(350,0.5)(360,0.6)(365,1)(370,1.6)(375,2.3)(380,3)(384,3.2)(388,2.6)(392,1.8)(396,1.4)(400,1.5)(405,2)(410,2.6)(415,3.2)(420,3.5)(425,3.8)(430,4.2)(435,4.7)(440,4.5)(445,3.6)(450,2.8)(455,2.3)(460,2)(465,2.3)(470,2.8)(475,3.5)(480,4.3)(485,5.3)(488,5.6)(492,4.8)(496,3.5)(500,2.3)(505,1.3)(510,0.8)(515,0.6)(520,0.6)(525,1)(529,2.5)(532,6)(535,11)(538,16)(541,19.5)(543,20)(545,18.5)(547,14)(549,9)(551,5)(553,2.5)(556,1.3)(560,1.2)(565,1.3)(570,1.6)(575,1.9)(580,2)(585,2.1)(590,1.7)(595,1.2)(600,1)(605,1.1)(610,1.4)(615,1.7)(620,2)(625,2)(630,1.6)(635,1)(640,0.6)(650,0.5)(660,0.4)(680,0.4)(700,0.4)(720,0.4)(740,0.4)(760,0.4)(780,0.4)(800,0.4)};
\addplot[redc] coordinates {(200,1.3)(202,1.2)(204,1.3)(206,1.2)(208,1.3)(210,1.2)(212,1.3)(214,1.2)(216,1.2)(218,1.3)(220,1.2)(222,1.2)(224,1.3)(226,1.2)(228,1.2)(230,1.3)(232,1.2)(234,1.2)(236,1.2)(238,1.3)(240,1.2)(242,1.2)(244,1.2)(246,1.2)(248,1.2)(250,2)(251,3.5)(252,5.5)(253,7.5)(254,8.8)(256,9)(258,8.7)(260,9.2)(262,9.5)(263,11)(264,14)(265,19)(266,25)(267,32)(268,40)(269,48)(270,56)(271,62)(272,65.5)(273,63)(274,57)(275,49)(276,41)(277,33)(278,26)(279,20)(280,16)(281,19)(282,26)(283,34)(284,43)(285,52)(286,59)(287,63)(288,61)(289,54)(290,45)(291,35)(292,25)(293,16)(294,9)(263.5,12.5)(264.5,16.5)(265.5,22)(266.5,28.5)(267.5,36)(268.5,44)(269.5,52)(270.5,59)(271.5,64)(272.5,64.5)(273.5,60)(274.5,53)(275.5,45)(276.5,37)(277.5,29.5)(278.5,23)(279.5,18)(280.5,17.5)(281.5,22.5)(282.5,30)(283.5,38.5)(284.5,47.5)(285.5,55.5)(286.5,61)(287.5,62.5)(288.5,57.5)(289.5,49.5)(290.5,40)(291.5,30)(292.5,20.5)(293.5,12.5)(295,5.5)(296,4.8)(297,6)(298,9)(299,13)(300,16.5)(301,18.3)(302,18.5)(303,17)(304,13.5)(299.5,15)(300.5,17.5)(301.5,18.4)(302.5,17.8)(303.5,15.3)(304.5,11.5)(305,9.5)(306,6)(307,4)(308,3)(309,2.8)(310,4)(311,7)(312,11)(313,15.5)(314,20)(315,23.5)(316,25.8)(317,26.7)(318,26.5)(319,25)(320,21.5)(321,16.5)(322,11)(311.5,9)(312.5,13.2)(313.5,17.8)(314.5,21.8)(315.5,24.7)(316.5,26.3)(317.5,26.6)(318.5,25.8)(319.5,23.3)(320.5,19)(321.5,13.8)(322.5,9)(323,7)(324,4.5)(325,3.5)(326,3.8)(327,4.2)(328,4.5)(329,4.3)(330,4)(332,3.6)(334,3.2)(336,3)};
\node[lbl, font=\ttl] at (axis cs:232.3,85) {PbF\sub{2} (Tb doping)};
\node[lbl, font=\ann, text=red] at (axis cs:281,75) {Em: 543 nm};
\node[lbl, font=\ann, text=blue] at (axis cs:541,75) {Ex: 272 nm};
\node[font=\ann] at (axis cs:740,10.7) {XSL};
\end{groupplot}
\node[rotate=90, font=\fontsize{24.5}{28}\selectfont] at ($(TL)+(-49pt,-234.1pt)$) {Intensity (a.u.)};
\node[font=\fontsize{25.6}{30}\selectfont] at ($(TL)+(436.75pt,-512.9pt)$) {Wavelength (nm)};
\pgfresetboundingbox
\path[use as bounding box] ($(TL)+(-65pt,10.65pt)$) rectangle ($(TL)+(862pt,-525.85pt)$);
\end{tikzpicture}
\end{document}
